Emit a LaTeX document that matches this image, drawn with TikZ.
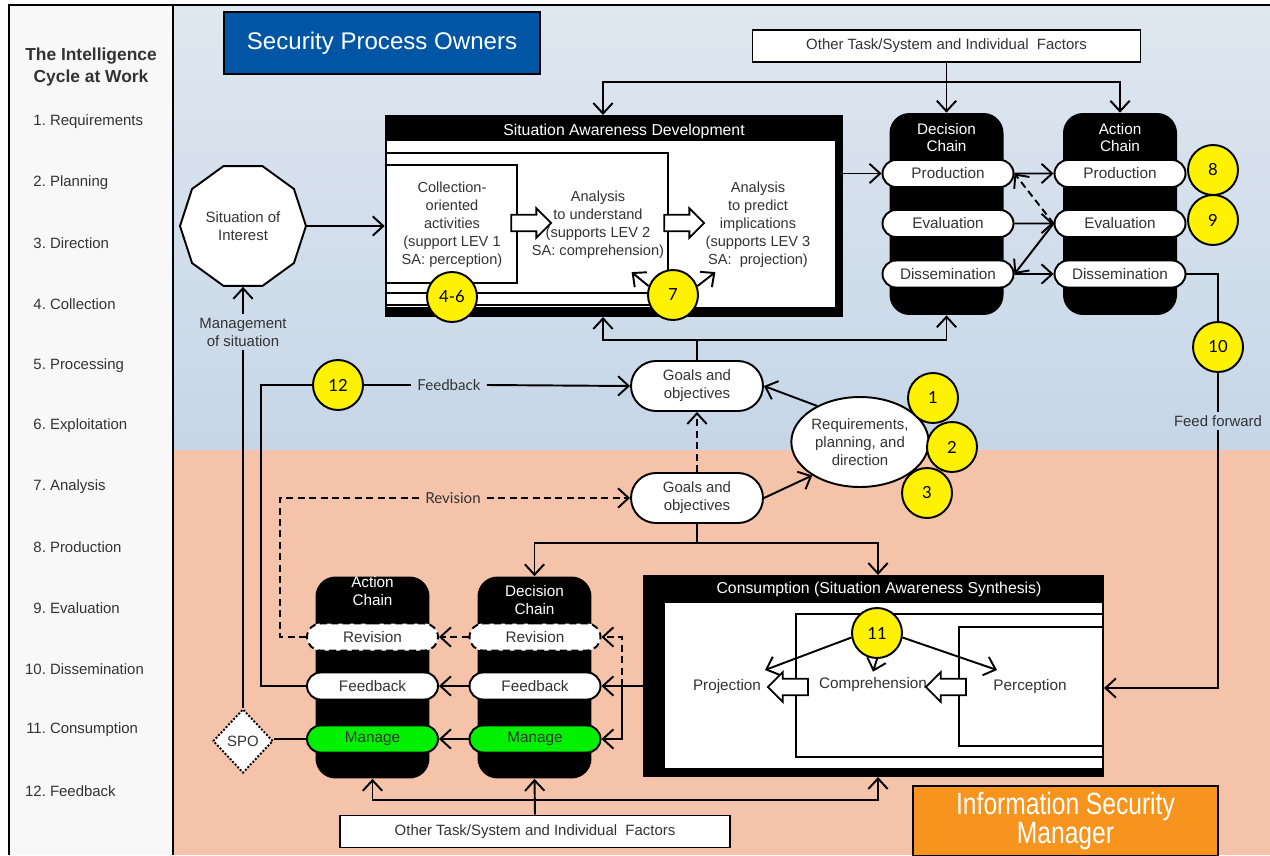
\documentclass[tikz,border=0pt]{standalone}
\usepackage{fontspec}
\setmainfont{Liberation Sans}
\newfontfamily\latofont{Lato}
\usetikzlibrary{arrows.meta}
\usetikzlibrary{shapes.geometric}
\usetikzlibrary{shapes.misc}
\usetikzlibrary{shapes.arrows}

\definecolor{txt}{HTML}{333333}
\definecolor{panel}{HTML}{F8F8F8}
\definecolor{bgtop}{HTML}{DFE7F0}
\definecolor{bgbot}{HTML}{C6D6E7}
\definecolor{bgsalmon}{HTML}{F5C3AA}
\definecolor{ownblue}{HTML}{0055A5}
\definecolor{ismorange}{HTML}{F7941D}
\definecolor{manggreen}{HTML}{00F000}

\tikzset{
  link/.style={line width=1.1pt},
  conn/.style={line width=1.1pt, -{Straight Barb[length=6pt,width=11pt]}},
  inner/.style={line width=1pt},
  pill/.style={rounded rectangle, draw, fill=white, line width=1.1pt, minimum width=2.62cm, minimum height=0.54cm, inner sep=0pt, font=\fontsize{8.7}{10}\selectfont},
  goal/.style={rounded rectangle, draw, fill=white, line width=1.1pt, minimum width=2.64cm, minimum height=1cm, inner sep=0pt, align=center},
  chain/.style={fill=black, rounded corners=0.4cm, minimum width=2.28cm, minimum height=4.04cm, inner sep=0pt},
  chaintitle/.style={text=white, align=center, font=\fontsize{8.7}{10}\selectfont},
  num/.style={circle, draw, fill=yellow, line width=1.1pt, minimum size=1cm, inner sep=0pt, text=black, font=\latofont\fontsize{9.5}{11}\selectfont},
  barrow/.style={single arrow, draw, fill=white, line width=1pt, minimum height=0.8cm, inner sep=4.2pt, single arrow head extend=3.7pt},
  factors/.style={draw, fill=white, line width=1pt, minimum width=7.76cm, minimum height=0.64cm, inner sep=0pt},
  sa/.style={align=center, font=\fontsize{8.3}{10.2}\selectfont},
  dashline/.style={dash pattern=on 4pt off 2.5pt}
}

\begin{document}
\begin{tikzpicture}[x=0.02cm, y=-0.02cm, font=\fontsize{8.5}{10.2}\selectfont, text=txt]
			% background
			\useasboundingbox (0,0) rectangle (1270,855);
			\fill[white] (0,0) rectangle (1270,855);
			\fill[panel] (9,5) rectangle (173,855);
			\shade[top color=bgtop, bottom color=bgbot] (173,5) rectangle (1270,450);
			\fill[bgsalmon] (173,450) rectangle (1270,855);
			\draw[link] (9,855) -- (9,5) -- (1270,5);
			\draw[link] (173,5) -- (173,855);
			
			% left column
			\node[font=\bfseries\fontsize{9.9}{13}\selectfont, align=center] (cycle) at (91,67) {The Intelligence\\Cycle at Work};
			\foreach \k/\lab in {1/Requirements,2/Planning,3/Direction,4/Collection,5/Processing,6/Exploitation,7/Analysis,8/Production,9/Evaluation,10/Dissemination,11/Consumption,12/Feedback}
			\node[anchor=west, inner sep=0pt] (stage\k) at (25,{122+60.8*(\k-1)}) {\makebox[11.7pt][r]{\k.} \lab};
			
			% header boxes
			\node[draw, line width=1pt, fill=ownblue, text=white, minimum width=6.32cm, minimum height=1.24cm, font=\fontsize{13.7}{16}\selectfont] (owners) at (382,43) {Security Process Owners};
			\node[factors] (otop) at (946.5,46) {Other Task/System and Individual\ \ Factors};
			
			% situation awareness development
			\node[fill=black, minimum width=9.16cm, minimum height=4.04cm, inner sep=0pt] (sad) at (614,216) {};
			\fill[white] (387,141) rectangle (835,307);
			\draw[inner] (387,153) -| (668,293) -- (387,293);
			\draw[inner] (387,165) -| (517,283) -- (387,283);
			\draw[inner] (387,305) -- (668,305);
			\node[text=white, font=\fontsize{9}{11}\selectfont] (sadtitle) at (624,131) {Situation Awareness Development};
			\node[sa] (coll) at (452,225) {Collection-\\oriented\\activities\\(support LEV 1\\SA: perception)};
			\node[sa] (under) at (598,225) {Analysis\\to understand\\(supports LEV 2\\SA: comprehension)};
			\node[sa] (predict) at (758,225) {Analysis\\to predict\\implications\\(supports LEV 3\\SA:\ \ projection)};
			\node[barrow] (ba1) at (527,223) {};
			\node[barrow] (ba2) at (680,223) {};
			\node[num] (c46) at (452,297) {4-6};
			\node[num] (c7) at (673,295) {7};
			\draw[conn] (c7.160) -- ++(-17,-14);
			\draw[conn] (c7.20) -- ++(18,-14);
			
			% situation of interest
			\node[regular polygon, regular polygon sides=10, draw, fill=white, line width=1.1pt, minimum size=2.52cm, inner sep=0pt, align=center] (soi) at (243,226) {Situation of\\Interest};
			\node[align=center, inner sep=2pt] (mgmt) at (243,332) {Management\\of situation};
			
			% top chains
			\node[chain] (dct) at (946.5,214) {};
			\node[chaintitle] (dcttitle) at (946.5,137.5) {Decision\\Chain};
			\node[pill] (dprod) at (948,173.5) {Production};
			\node[pill] (deval) at (948,223.5) {Evaluation};
			\node[pill] (ddis) at (948,274) {Dissemination};
			\node[chain] (act) at (1120,214) {};
			\node[chaintitle] (acttitle) at (1120,137.5) {Action\\Chain};
			\node[pill] (aprod) at (1120,173.5) {Production};
			\node[pill] (aeval) at (1120,223.5) {Evaluation};
			\node[pill] (adis) at (1120,274) {Dissemination};
			\node[num] (c8) at (1213,170) {8};
			\node[num] (c9) at (1213,220) {9};
			\node[num] (c10) at (1218,347) {10};
			\node[inner sep=2pt] (ff) at (1218,421) {Feed forward};
			
			% goals and requirements
			\node[goal] (gtop) at (697,386) {Goals and\\objectives};
			\node[goal] (gbot) at (697,498) {Goals and\\objectives};
			\node[ellipse, draw, fill=white, line width=1.1pt, minimum width=2.68cm, minimum height=1.8cm, inner sep=0pt, align=center] (req) at (860,442) {Requirements,\\planning, and\\direction};
			\node[num] (c1) at (933,398) {1};
			\node[num] (c2) at (952,447) {2};
			\node[num] (c3) at (927,493) {3};
			\node[num] (c12) at (338,385) {12};
			\node[font=\latofont\fontsize{8.6}{10}\selectfont] (fblab) at (449,385) {Feedback};
			\node[font=\latofont\fontsize{8.6}{10}\selectfont] (revlab) at (453,498) {Revision};
			
			% consumption
			\node[fill=black, minimum width=9.22cm, minimum height=4.04cm, inner sep=0pt] (cons) at (873.5,676) {};
			\fill[white] (665,603) rectangle (1102,768);
			\draw[inner] (1102,614) -| (796,757) -- (1102,757);
			\draw[inner] (1102,627) -| (959,746) -- (1102,746);
			\node[text=white, font=\fontsize{9}{11}\selectfont] (constitle) at (879,589) {Consumption (Situation Awareness Synthesis)};
			\node[font=\fontsize{8.7}{10}\selectfont] (proj) at (727,687) {Projection};
			\node[font=\fontsize{8.7}{10}\selectfont] (comp) at (873,685) {Comprehension};
			\node[font=\fontsize{8.7}{10}\selectfont] (perc) at (1030,687) {Perception};
			\node[barrow, shape border rotate=180] (ba3) at (792,687) {};
			\node[barrow, shape border rotate=180] (ba4) at (950,687) {};
			\node[num] (c11) at (877,633) {11};
			
			% bottom chains
			\node[chain] (acb) at (372.5,677.5) {};
			\node[chaintitle] (acbtitle) at (372.5,591) {Action\\Chain};
			\node[pill, dashline] (arev) at (372.5,637) {Revision};
			\node[pill] (afb) at (372.5,686) {Feedback};
			\node[pill, fill=manggreen] (aman) at (372.5,739) {Manage};
			\node[chain] (dcb) at (534.5,677.5) {};
			\node[chaintitle] (dcbtitle) at (534.5,600) {Decision\\Chain};
			\node[pill, dashline] (drev) at (535,637) {Revision};
			\node[pill] (dfb) at (535,686) {Feedback};
			\node[pill, fill=manggreen] (dman) at (535,739) {Manage};
			\node[diamond, draw, densely dotted, line width=1.1pt, fill=white, minimum width=1.2cm, minimum height=1.28cm, inner sep=0pt] (spo) at (243,741) {SPO};
			
			% bottom boxes
			\node[factors, minimum width=7.8cm] (obot) at (535,831.5) {Other Task/System and Individual\ \ Factors};
			\node[draw, line width=1pt, fill=ismorange, text=white, minimum width=6.1cm, minimum height=1.24cm, align=center, font=\fontsize{17.5}{17}\selectfont] (ism) at (1065.5,821) {\scalebox{0.8}[1]{Information Security}\\\scalebox{0.8}[1]{Manager}};
			
			% free ends
			\coordinate (tbar) at (946.5,82);
			\coordinate (sadt) at (603,115);
			\coordinate (sadb) at (603,317);
			\coordinate (gbar) at (697,340);
			\coordinate (gbar2) at (697,543);
			\coordinate (consn) at (878,575);
			\coordinate (conss) at (878,777);
			\coordinate (consr) at (1104,688);
			\coordinate (bbar) at (535,800);
			\coordinate (branch) at (622,686);
			\coordinate (projtip) at (765,670);
			\coordinate (perctip) at (997,670);
			
			% draw connectors
			\draw[conn] (otop.south) -- (dct.north);
			\draw[conn] (tbar) -| (sadt);
			\draw[conn] (tbar) -| (act.north);
			\draw[conn] (soi.east) -- (soi.east -| sad.west);
			\draw[conn] (sad.east |- dprod) -- (dprod.west);
			\draw[conn] (dprod) -- (aprod);
			\draw[conn] (deval) -- (aeval);
			\draw[conn] (ddis) -- (adis);
			\draw[conn, dashline] (aeval.west) -- (dprod.east);
			\draw[conn] (aeval.west) -- (ddis.east);
			\draw[link] (adis.east) -| (c10.north);
			\draw[link] (c10.south) -- (ff.north);
			\draw[conn] (ff.south) |- (consr);
			\draw[link] (gtop.north) -- (gbar);
			\draw[conn] (gbar) -| (sadb);
			\draw[conn] (gbar) -| (dct.south);
			\draw[conn] (req.140) -- (gtop.east);
			\draw[conn] (gbot.east) -- (req.215);
			\draw[conn, dashline] (gbot.north) -- (gtop.south);
			\draw[link] (gbot.south) -- (gbar2);
			\draw[conn] (gbar2) -| (dcb.north);
			\draw[conn] (gbar2) -| (consn);
			\draw[conn] (c11.190) -- (projtip);
			\draw[conn] (c11.south) -- (comp.north);
			\draw[conn] (c11.350) -- (perctip);
			\draw[conn] (cons.west |- dfb) -- (dfb.east);
			\draw[conn, dashline] (branch) |- (drev.east);
			\draw[conn] (branch) |- (dman.east);
			\draw[conn, dashline] (drev.west) -- (arev.east);
			\draw[conn] (dfb.west) -- (afb.east);
			\draw[conn] (dman.west) -- (aman.east);
			\draw[link, dashline] (arev.west) -- ++(-26,0) |- (revlab.west);
			\draw[conn, dashline] (revlab.east) -- (gbot.west);
			\draw[link] (afb.west) -- ++(-45,0) |- (c12.west);
			\draw[link] (c12.east) -- (fblab.west);
			\draw[conn] (fblab.east) -- (gtop.west);
			\draw[link] (aman.west) -- (aman.west -| spo.east);
			\draw[link] (spo.north) -- (mgmt.south);
			\draw[conn] (mgmt.north) -- (soi.south);
			\draw[conn] (obot.north) -- (dcb.south);
			\draw[conn] (bbar) -| (acb.south);
			\draw[conn] (bbar) -| (conss);
\end{tikzpicture}
\end{document}
